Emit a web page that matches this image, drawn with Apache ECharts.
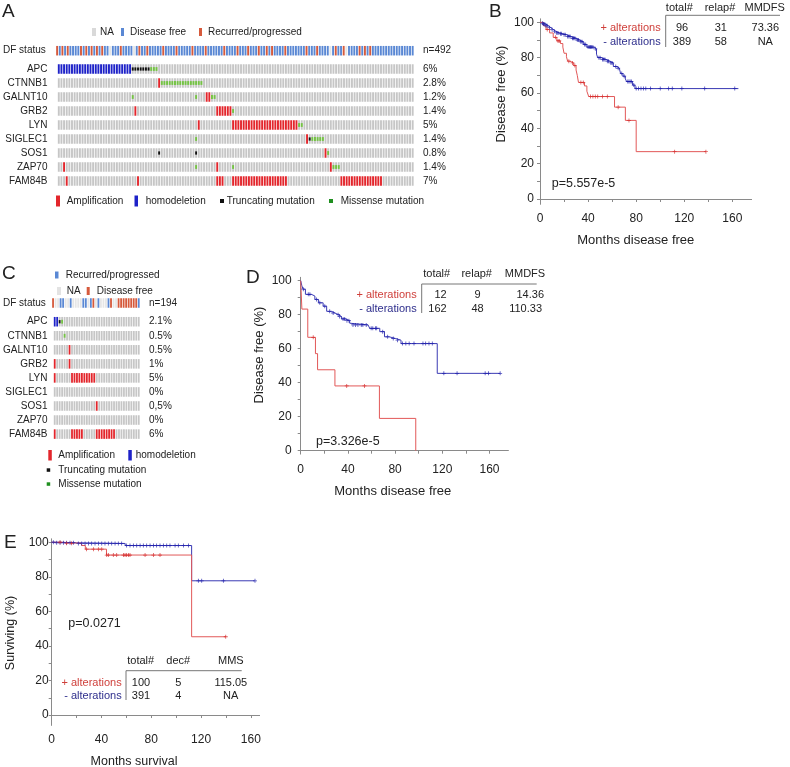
<!DOCTYPE html>
<html><head><meta charset="utf-8">
<script src="https://cdn.jsdelivr.net/npm/echarts@6/dist/echarts.min.js"></script>
<style>html,body{margin:0;padding:0;background:#fff}#c{width:790px;height:767px}</style>
</head><body><div id="c"></div><script>
const FONT = '"Liberation Sans", Arial, sans-serif';

// ---------- Panel A oncoprint ----------
const A_NCOLS = 135;
const GENES = ['APC','CTNNB1','GALNT10','GRB2','LYN','SIGLEC1','SOS1','ZAP70','FAM84B'];
const A_PCT = ['6%','2.8%','1.2%','1.4%','5%','1.4%','0.8%','1.4%','7%'];
const A_N = 'n=492';
const A_DF_RED = [0,2,4,9,11,13,15,17,24,31,34,40,45,51,56,63,68,72,76,79,81,86,94,98,105,108,114,116,118];
const A_DF_NA = [20,29,103,109];
const A_ALT = {
  APC: [[0,27,'D'],[28,34,'T'],[35,37,'M']],
  CTNNB1: [[38,38,'A'],[39,54,'M']],
  GALNT10: [[28,28,'M'],[52,52,'M'],[56,57,'A'],[58,59,'M']],
  GRB2: [[29,29,'A'],[60,65,'A'],[66,66,'M']],
  LYN: [[53,53,'A'],[66,90,'A'],[91,92,'M']],
  SIGLEC1: [[52,52,'M'],[94,94,'A'],[95,95,'T'],[96,100,'M']],
  SOS1: [[38,38,'T'],[52,52,'T'],[101,101,'A'],[102,102,'M']],
  ZAP70: [[2,2,'A'],[52,52,'M'],[60,60,'A'],[66,66,'M'],[103,103,'A'],[104,106,'M']],
  FAM84B: [[3,3,'A'],[30,30,'A'],[60,62,'A'],[66,86,'A'],[107,122,'A']]
};

// ---------- Panel C oncoprint ----------
const C_NCOLS = 35;
const C_PCT = ['2.1%','0.5%','0.5%','1%','5%','0%','0,5%','0%','6%'];
const C_N = 'n=194';
const C_DF_BLUE = [3,4,7,12,13,15,18,22,34];
const C_DF_RED = [0,16,23,26,27,28,29,30,31,32,33];
const C_ALT = {
  APC: [[0,1,'D'],[2,2,'T'],[3,3,'M']],
  CTNNB1: [[4,4,'M']],
  GALNT10: [[6,6,'A']],
  GRB2: [[0,0,'A'],[6,6,'A']],
  LYN: [[0,0,'A'],[7,16,'A']],
  SIGLEC1: [],
  SOS1: [[17,17,'A']],
  ZAP70: [],
  FAM84B: [[0,0,'A'],[7,11,'A'],[17,24,'A']]
};

// ---------- Panel B KM (disease free, n=492) ----------
const B_POS_KM = [[0,100],[3,98],[5,96],[8,94],[11,91.5],[14,89.5],[17,88],[19,86],[20,82.5],[22,80.5],[23,78],[25,77],[28,75.5],[30,73],[31,70],[32,66],[37,64],[39,61],[40.5,58],[62,52],[71,44.5],[80,26.8],[138,26.8]];
const B_POS_CENS = [[6,96],[13,91.5],[15,89.5],[16,89.5],[24,78],[27,77],[29,75.5],[34,66],[36,66],[42,58],[44,58],[46,58],[48,58],[52,58],[56,58],[65,52],[74,44.5],[112,26.8],[138,26.8]];
const B_NEG_KM = [[0,100],[1,99.5],[3,99],[5,98],[7,97],[9,96],[11,95],[13,94],[16,93.5],[19,93],[22,92],[26,91],[30,90],[33,89],[36,87.5],[39,86],[45,85],[47,82],[48,80],[51,79],[55,78],[58,77],[61,75],[64,74],[66,73],[67,71],[69,69.5],[71,68],[72,66.5],[77,64.5],[79,62.5],[165,62.5]];
const B_NEG_CENS = [[2,99.5],[3,99],[4,99],[5,98],[6,98],[8,97],[10,96],[12,95],[14,94],[15,94],[17,93.5],[18,93.5],[20,93],[21,93],[23,92],[24,92],[25,92],[27,91],[28,91],[29,91],[31,90],[32,90],[34,89],[35,89],[37,87.5],[38,87.5],[40,86],[41,86],[42,86],[43,86],[44,86],[46,85],[49,80],[50,80],[52,79],[53,79],[54,79],[56,78],[57,78],[59,77],[60,77],[63,75],[65,74],[68,71],[70,69.5],[73,66.5],[74,66.5],[75,66.5],[76,66.5],[78,64.5],[80,62.5],[82,62.5],[84,62.5],[86,62.5],[88,62.5],[92,62.5],[100,62.5],[107,62.5],[110,62.5],[118,62.5],[137,62.5],[162,62.5]];

// ---------- Panel D KM (disease free, n=194) ----------
const D_POS_KM = [[0,100],[1,83.3],[6,66.7],[12.5,57.1],[14.3,47.6],[29,38.1],[66.7,19],[97.5,0]];
const D_POS_CENS = [[10.6,66.7],[39,38.1],[54,38.1]];
const D_NEG_KM = [[0,100],[1,97],[2,95],[4,92],[9,91],[12,89],[15,87],[19,85],[22,82],[26,81],[29,80],[32,79],[34.5,77.5],[38,76.5],[41.5,75],[43,74],[57,73],[58.5,72],[67,70],[71,67],[75,66],[80.5,65],[85,63],[115.7,45.5],[169,45.5]];
const D_NEG_CENS = [[2.2,95],[6.4,92],[7.8,92],[13.4,89],[16.2,87],[20.4,85],[24.6,82],[27.5,81],[31.7,80],[33,79],[35.9,77.5],[37.3,77.5],[39.2,76.5],[40.9,76.5],[44.3,74],[46.5,74],[48.5,74],[51.3,74],[52.7,74],[55.5,74],[59.7,72],[61.1,72],[63.3,72],[64.4,72],[69.5,70],[73.7,67],[78.4,66],[82,65],[86.3,63],[89.1,63],[91.9,63],[96,63],[103.6,63],[105.9,63],[108.7,63],[111.5,63],[121.3,45.5],[132.5,45.5],[156.3,45.5],[159.1,45.5],[169,45.5]];

// ---------- Panel E KM (survival) ----------
const E_POS_KM = [[0,100],[8,99.4],[24,98.1],[27,96],[44,92.6],[112.4,45.3],[140,45.3]];
const E_POS_CENS = [[6.7,100],[12,99.4],[16,99.4],[28,96],[33.5,96],[37.5,96],[40.2,96],[44.2,92.6],[45.5,92.6],[49.5,92.6],[52.2,92.6],[57.6,92.6],[58.9,92.6],[60.2,92.6],[61.6,92.6],[62.9,92.6],[75,92.6],[81.7,92.6],[87,92.6],[139.8,45.3]];
const E_NEG_KM = [[0,100],[4,99.7],[20,99.3],[59,98.1],[112.4,77.7],[163,77.7]];
const E_NEG_CENS = [[1.3,100],[4,99.7],[6.7,99.7],[9.4,99.7],[12,99.7],[14.7,99.7],[17.4,99.7],[21.4,99.3],[24.1,99.3],[26.8,99.3],[29.5,99.3],[32.1,99.3],[34.8,99.3],[37.5,99.3],[40.2,99.3],[42.8,99.3],[45.5,99.3],[48.2,99.3],[50.9,99.3],[53.5,99.3],[56.2,99.3],[60.2,98.1],[62.9,98.1],[65.6,98.1],[68.3,98.1],[71,98.1],[73.6,98.1],[76.3,98.1],[79,98.1],[81.7,98.1],[84.3,98.1],[87,98.1],[89.7,98.1],[92.4,98.1],[95,98.1],[99.1,98.1],[101.7,98.1],[105.8,98.1],[109.8,98.1],[117.8,77.7],[120.5,77.7],[137.9,77.7],[163.3,77.7]];

const KM_XLABELS = [0,40,80,120,160];
const KM_XTICKS = [0,20,40,60,80,100,120,140,160];
const KM_YLABELS = [0,20,40,60,80,100];
const KM_YTICKS = [0,10,20,30,40,50,60,70,80,90,100];

// ---------- styles ----------
const GRAY='#c6c6c6', AMP='#e3262c', HOMDEL='#1e22c8', GREEN='#74c443', GREEN_D='#1f8f1f', DFB='#5a88d4', DFR='#d65a3c', NA='#e6e6e6';
const AX='#8a8a8a', TXT='#222';
const RED_L='#e25858', RED_M='#d42828', BLUE_L='#3a3ab4', BLUE_M='#1c1caa';
const CODE = {A:1, D:2, T:3, M:4};

function expandGenes(alts, ncols){
  const out=[];
  GENES.forEach((g,r)=>{
    const row=new Array(ncols).fill(0);
    (alts[g]||[]).forEach(([s,e,t])=>{for(let c=s;c<=e;c++) row[c]=CODE[t];});
    row.forEach((t,c)=>out.push([c,r,t]));
  });
  return out;
}
function expandDF(ncols, blue, red, na, defaultCode){
  const out=[];
  for(let c=0;c<ncols;c++){
    let t=defaultCode;
    if(blue && blue.includes(c)) t=5;
    if(red && red.includes(c)) t=6;
    if(na && na.includes(c)) t=7;
    out.push([c,0,t]);
  }
  return out;
}
function oncoRender(params, api){
  const c=api.value(0), r=api.value(1), t=api.value(2);
  const p=api.coord([c+0.5, r]);
  const cw=api.size([1,0])[0];
  const band=api.size([0,1])[1];
  const bw=cw*0.72, bh=band*0.68;
  const x=p[0]-bw/2, y=p[1]-bh/2;
  const fillMap={1:AMP,2:HOMDEL,5:DFB,6:DFR,7:NA};
  const ch=[{type:'rect',shape:{x,y,width:bw,height:bh},style:{fill:fillMap[t]||GRAY}}];
  if(t===3) ch.push({type:'rect',shape:{x:x,y:p[1]-bh*0.17,width:bw,height:bh*0.34},style:{fill:'#111'}});
  if(t===4) ch.push({type:'rect',shape:{x:x,y:p[1]-bh*0.2,width:bw,height:bh*0.4},style:{fill:GREEN}});
  return {type:'group',children:ch};
}

const grids=[
  {left:52,top:43.7,width:362,height:14},
  {left:52,top:62,width:362,height:126},
  {left:49,top:296,width:91,height:14},
  {left:49,top:314.7,width:91,height:126.4},
  {left:540,top:18.8,width:211.6,height:185.5},
  {left:300.7,top:277.3,width:207.7,height:176.8},
  {left:51.7,top:538.8,width:207.9,height:186.6}
];
const hiddenX=(gi,max)=>({type:'value',gridIndex:gi,min:0,max,show:false});
const catY=(gi,data,pos,margin)=>({type:'category',gridIndex:gi,data,inverse:true,position:pos,
  axisLine:{show:false},axisTick:{show:false},splitLine:{show:false},
  axisLabel:{color:TXT,fontSize:10,fontFamily:FONT,margin}});
function kmX(gi,max,margin){return {type:'value',gridIndex:gi,min:0,max,splitLine:{show:false},
  axisLine:{lineStyle:{color:AX}},axisTick:{customValues:KM_XTICKS,length:3,lineStyle:{color:AX}},
  axisLabel:{customValues:KM_XLABELS,color:TXT,fontSize:12,fontFamily:FONT,margin}};}
function kmY(gi,min,max,margin){return {type:'value',gridIndex:gi,min,max,splitLine:{show:false},
  axisLine:{show:true,lineStyle:{color:AX}},axisTick:{show:true,customValues:KM_YTICKS,length:3,lineStyle:{color:AX}},
  axisLabel:{customValues:KM_YLABELS,color:TXT,fontSize:12,fontFamily:FONT,margin}};}

const xAxis=[hiddenX(0,A_NCOLS),hiddenX(1,A_NCOLS),hiddenX(2,C_NCOLS),hiddenX(3,C_NCOLS),kmX(4,176,8),kmX(5,176,10),kmX(6,167,8)];
const yAxis=[
  catY(0,['DF status'],'left',10), catY(0,[A_N],'right',9),
  catY(1,GENES,'left',10), catY(1,A_PCT,'right',9),
  catY(2,['DF status'],'left',6), catY(2,[C_N],'right',9),
  catY(3,GENES,'left',6), catY(3,C_PCT,'right',9),
  kmY(4,-3,102,6), kmY(5,-2,102,9), kmY(6,-6,102,3)
];
const PLUS='path://M2,0H3V2H5V3H3V5H2V3H0V2H2Z';
function kmLine(xi,yi,data,color){return {type:'line',xAxisIndex:xi,yAxisIndex:yi,data,step:'end',symbol:'none',lineStyle:{width:1,color},silent:true,z:2};}
function kmCens(xi,yi,data,color){return {type:'scatter',xAxisIndex:xi,yAxisIndex:yi,data,symbol:PLUS,symbolSize:4,itemStyle:{color},silent:true,z:3};}

const series=[
  {type:'custom',xAxisIndex:0,yAxisIndex:0,renderItem:oncoRender,encode:{x:0,y:1},data:expandDF(A_NCOLS,null,A_DF_RED,A_DF_NA,5),silent:true},
  {type:'custom',xAxisIndex:1,yAxisIndex:2,renderItem:oncoRender,encode:{x:0,y:1},data:expandGenes(A_ALT,A_NCOLS),silent:true},
  {type:'custom',xAxisIndex:2,yAxisIndex:4,renderItem:oncoRender,encode:{x:0,y:1},data:expandDF(C_NCOLS,C_DF_BLUE,C_DF_RED,null,7),silent:true},
  {type:'custom',xAxisIndex:3,yAxisIndex:6,renderItem:oncoRender,encode:{x:0,y:1},data:expandGenes(C_ALT,C_NCOLS),silent:true},
  kmLine(4,8,B_NEG_KM,BLUE_L), kmCens(4,8,B_NEG_CENS,BLUE_M),
  kmLine(4,8,B_POS_KM,RED_L), kmCens(4,8,B_POS_CENS,RED_M),
  kmLine(5,9,D_NEG_KM,BLUE_L), kmCens(5,9,D_NEG_CENS,BLUE_M),
  kmLine(5,9,D_POS_KM,RED_L), kmCens(5,9,D_POS_CENS,RED_M),
  kmLine(6,10,E_NEG_KM,BLUE_L), kmCens(6,10,E_NEG_CENS,BLUE_M),
  kmLine(6,10,E_POS_KM,RED_L), kmCens(6,10,E_POS_CENS,RED_M)
];

// ---------- graphic (letters, legends, tables, titles) ----------
function T(text,x,y,o={}){const a=o.align||'left';return {type:'text',x,y,rotation:o.rot||0,silent:true,z:10,
  style:{text,fill:o.color||TXT,font:(o.size||11)+'px '+FONT,fontSize:o.size||11,fontFamily:FONT,
  textAlign:a,align:a,textVerticalAlign:'middle',verticalAlign:'middle'}};}
function R(x,y,w,h,fill){return {type:'rect',shape:{x,y,width:w,height:h},style:{fill},silent:true,z:10};}
function L(x1,y1,x2,y2){return {type:'line',shape:{x1,y1,x2,y2},style:{stroke:'#777',lineWidth:1},silent:true,z:10};}
const TRED='#cf3f3a', TBLUE='#2e2e8c';
const g=[
  T('A',2,12,{size:19}), T('B',489,12,{size:19}), T('C',2,274,{size:19}), T('D',246,278,{size:19}), T('E',4,542.5,{size:19}),
  // A legends
  R(92,28,4,8,'#d9d9d9'), T('NA',100,32,{size:10}), R(121,28,3,8,DFB), T('Disease free',130,32,{size:10}),
  R(199,28,3,8,DFR), T('Recurred/progressed',208,32,{size:10}),
  R(56,195.5,4,11,AMP), T('Amplification',66.7,201,{size:10}), R(134.5,195.5,3.5,11,HOMDEL), T('homodeletion',145.7,201,{size:10}),
  R(220,199,4,4,'#111'), T('Truncating mutation',226.7,201,{size:10}), R(329,199,4,4,GREEN_D), T('Missense mutation',340.7,201,{size:10}),
  // C legends
  R(55,271.5,3.5,7,DFB), T('Recurred/progressed',65.7,275,{size:10}),
  R(57,287,4,8,'#e3e3e3'), T('NA',66.7,291,{size:10}), R(86.7,287,3,8,DFR), T('Disease free',96.7,291,{size:10}),
  R(48.3,450,3.5,10.5,AMP), T('Amplification',58.3,455,{size:10}), R(128.3,450,3.5,10.5,HOMDEL), T('homodeletion',135.7,455,{size:10}),
  R(46.7,468.3,3.5,3.5,'#111'), T('Truncating mutation',58.3,470,{size:10}),
  R(46.7,482.3,3.5,3.5,GREEN_D), T('Missense mutation',58.3,484,{size:10}),
  // B table
  T('total#',679.3,7.5,{align:'center'}), T('relap#',720,7.5,{align:'center'}), T('MMDFS',764.7,7.5,{align:'center'}),
  L(665.7,15.3,780,15.3), L(665.7,15.3,665.7,47),
  T('+ alterations',660.7,28,{align:'right',color:TRED}), T('- alterations',660.7,42.3,{align:'right',color:TBLUE}),
  T('96',682,28,{align:'center'}), T('31',720.8,28,{align:'center'}), T('73.36',765.3,28,{align:'center'}),
  T('389',682,42.3,{align:'center'}), T('58',720.8,42.3,{align:'center'}), T('NA',765.3,42.3,{align:'center'}),
  T('p=5.557e-5',551.7,183.3,{size:12.5}),
  T('Disease free (%)',501,94,{size:13,rot:Math.PI/2,align:'center'}), T('Months disease free',635.8,240,{size:13,align:'center'}),
  // D table
  T('total#',436.7,274,{align:'center'}), T('relap#',476.7,274,{align:'center'}), T('MMDFS',525,274,{align:'center'}),
  L(421.7,284,536.7,284), L(421.7,284,421.7,313),
  T('+ alterations',416.7,295,{align:'right',color:TRED}), T('- alterations',416.7,309.3,{align:'right',color:TBLUE}),
  T('12',446.7,295,{align:'right'}), T('9',477.5,295,{align:'center'}), T('14.36',544,295,{align:'right'}),
  T('162',446.7,309.3,{align:'right'}), T('48',477.5,309.3,{align:'center'}), T('110.33',542,309.3,{align:'right'}),
  T('p=3.326e-5',316,441.7,{size:12.5}),
  T('Disease free (%)',259,355,{size:13,rot:Math.PI/2,align:'center'}), T('Months disease free',392.8,491.7,{size:13,align:'center'}),
  // E table
  T('total#',140.7,661,{align:'center'}), T('dec#',178.3,661,{align:'center'}), T('MMS',230.8,661,{align:'center'}),
  L(126,670.7,241.7,670.7), L(126,670.7,126,700),
  T('+ alterations',121.7,682.7,{align:'right',color:TRED}), T('- alterations',121.7,696,{align:'right',color:TBLUE}),
  T('100',141,682.7,{align:'center'}), T('5',178.3,682.7,{align:'center'}), T('115.05',230.8,682.7,{align:'center'}),
  T('391',141,696,{align:'center'}), T('4',178.3,696,{align:'center'}), T('NA',230.7,696,{align:'center'}),
  T('p=0.0271',68.3,624,{size:12.5}),
  T('Surviving (%)',11,633,{size:12.5,rot:Math.PI/2,align:'center'}), T('Months survival',134,761.7,{size:12.5,align:'center'})
];

const chart=echarts.init(document.getElementById('c'),null,{renderer:'canvas'});
chart.setOption({animation:false,backgroundColor:'#fff',grid:grids,xAxis,yAxis,series,graphic:{elements:g}});
</script></body></html>
